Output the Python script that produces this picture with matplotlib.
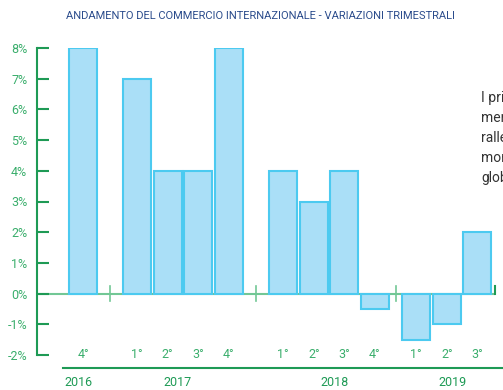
import matplotlib
matplotlib.use("Agg")
import matplotlib.pyplot as plt
from matplotlib import font_manager

# quarterly changes of international trade, grouped by year
years = ["2016", "2017", "2018", "2019"]
quarters = [["4°"], ["1°", "2°", "3°", "4°"], ["1°", "2°", "3°", "4°"], ["1°", "2°", "3°"]]
values = [[8], [7, 4, 4, 8], [4, 3, 4, -0.5], [-1.5, -1, 2]]
group_starts = [0, 1.77, 6.56, 10.92]
year_label_x = [-0.16, 3.1, 8.25, 12.12]
yticks = [-2, -1, 0, 1, 2, 3, 4, 5, 6, 7, 8]
side_text = ["I pri", "mer", "ralle", "mor", "glob"]

names = {f.name for f in font_manager.fontManager.ttflist}
narrow = "Liberation Sans Narrow" if "Liberation Sans Narrow" in names else "Roboto"

DARK_GREEN = "#1e9a55"
GREEN = "#3aae6c"
LIGHT_GREEN = "#72c795"
BAR_FILL = "#aadff7"
BAR_EDGE = "#4ccaf0"

fig = plt.figure(figsize=(5.03, 3.90), dpi=100)
W, H = 503, 390
ax = fig.add_axes([37 / W, 35 / H, (495 - 37) / W, (355 - 48) / H])
ax.set_xlim(-1.51, 13.5)
ax.set_ylim(-2, 8)

xs, vals, labels = [], [], []
for start, qs, vs in zip(group_starts, quarters, values):
    for i, (q, v) in enumerate(zip(qs, vs)):
        xs.append(start + i)
        vals.append(v)
        labels.append(q)

# zero line with group separators
ax.axhline(0, color=LIGHT_GREEN, lw=1.5, zorder=1)
ends = [group_starts[g] + len(quarters[g]) - 1 for g in range(len(years))]
for g in range(len(years) - 1):
    sep = (ends[g] + group_starts[g + 1]) / 2
    ax.plot([sep, sep], [-0.25, 0.25], color=LIGHT_GREEN, lw=1.2, zorder=1)
ax.plot([13.5, 13.5], [0, 0.25], color=DARK_GREEN, lw=1.5, zorder=1, clip_on=False)

ax.bar(xs, vals, width=0.92, color=BAR_FILL, edgecolor=BAR_EDGE, linewidth=1.5, zorder=2)

for spine in ["top", "right", "bottom"]:
    ax.spines[spine].set_visible(False)
ax.spines["left"].set_color(DARK_GREEN)
ax.spines["left"].set_linewidth(1.5)
ax.set_yticks(yticks)
ax.set_yticklabels([f"{t}%" for t in yticks], family=narrow, fontsize=9, color=GREEN)
ax.tick_params(axis="y", direction="in", length=8.5, width=1.5, color=DARK_GREEN, pad=7)
ax.set_xticks([])

# quarter labels at the -2% level
for x, lab in zip(xs, labels):
    ax.text(x, -2, lab, ha="center", va="center", family=narrow, fontsize=9, color=GREEN)

# year axis below
ax.plot([-0.66, 13.8], [-2.42, -2.42], color=DARK_GREEN, lw=1.5, clip_on=False)
for x, yr in zip(year_label_x, years):
    ax.text(x, -2.88, yr, ha="center", va="center", family=narrow, fontsize=9, color=DARK_GREEN)

fig.text(260 / W, 1 - 16 / H, "ANDAMENTO DEL COMMERCIO INTERNAZIONALE - VARIAZIONI TRIMESTRALI",
         ha="center", va="center", family=narrow, fontsize=8, color="#2b4c8c")

for i, line in enumerate(side_text):
    fig.text(481 / W, 1 - (98 + 20 * i) / H, line, ha="left", va="center",
             family=narrow, fontsize=10, color="#333333")

fig.savefig("out.png", dpi=100)
